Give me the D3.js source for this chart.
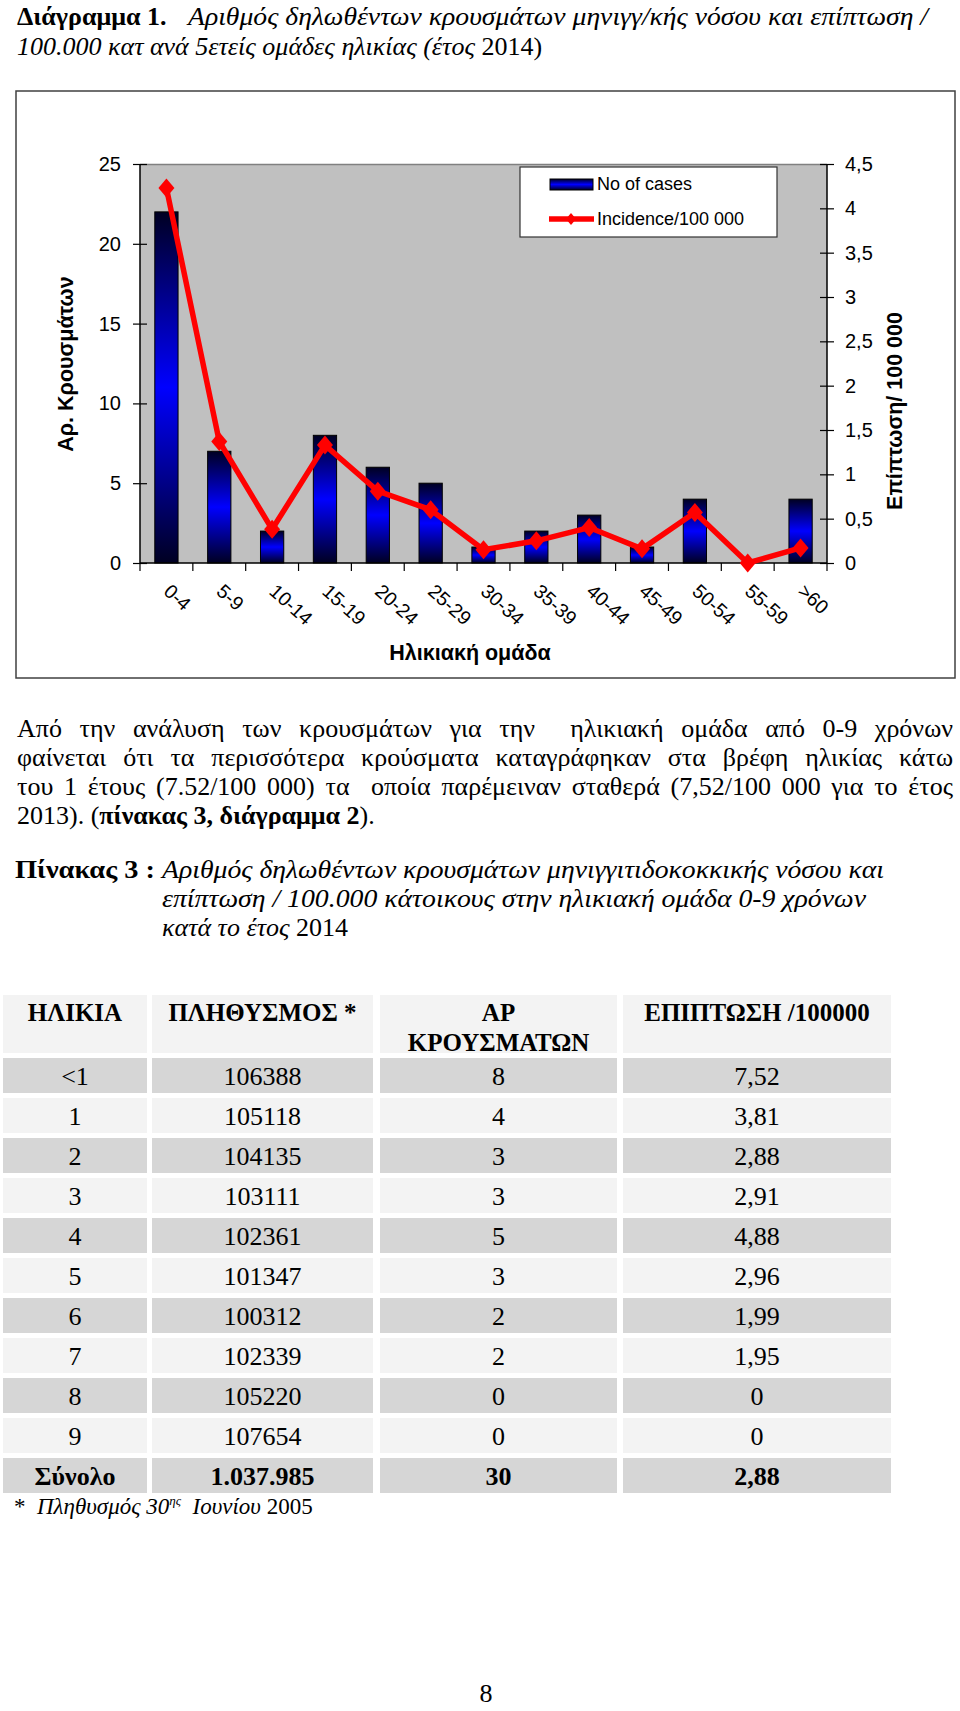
<!DOCTYPE html>
<html><head><meta charset="utf-8">
<script src="https://cdn.jsdelivr.net/npm/d3@7"></script>
<style>body{margin:0;background:#fff}svg{display:block}</style>
</head><body>
<svg id="page" width="960" height="1711"></svg>
<script>
// ---------- DATA ----------
const ageGroups = ["0-4","5-9","10-14","15-19","20-24","25-29","30-34","35-39","40-44","45-49","50-54","55-59",">60"];
const cases = [22,7,2,8,6,5,1,2,3,1,4,0,4];
const incidence = [4.23,1.37,0.38,1.33,0.81,0.6,0.15,0.25,0.40,0.16,0.57,0,0.17];
const leftTicks = [0,5,10,15,20,25];
const rightTicks = [0,0.5,1,1.5,2,2.5,3,3.5,4,4.5];
const rightTickLabels = ["0","0,5","1","1,5","2","2,5","3","3,5","4","4,5"];
const legendLabels = ["No of cases","Incidence/100 000"];

const tableHeader = [["ΗΛΙΚΙΑ"],["ΠΛΗΘΥΣΜΟΣ *"],["ΑΡ","ΚΡΟΥΣΜΑΤΩΝ"],["ΕΠΙΠΤΩΣΗ /100000"]];
const tableAges = ["<1","1","2","3","4","5","6","7","8","9","Σύνολο"];
const tablePop = ["106388","105118","104135","103111","102361","101347","100312","102339","105220","107654","1.037.985"];
const tableCases = ["8","4","3","3","5","3","2","2","0","0","30"];
const tableInc = ["7,52","3,81","2,88","2,91","4,88","2,96","1,99","1,95","0","0","2,88"];

const paraLines = [
  "Από την ανάλυση των κρουσμάτων για την  ηλικιακή ομάδα από 0-9 χρόνων",
  "φαίνεται ότι τα περισσότερα κρούσματα καταγράφηκαν στα βρέφη ηλικίας κάτω",
  "του 1 έτους (7.52/100 000) τα  οποία παρέμειναν σταθερά (7,52/100 000 για το έτος"
];

// ---------- STYLE / LAYOUT ----------
const SERIF = "'Liberation Serif','Times New Roman',serif";
const SANS = "'Liberation Sans',Arial,sans-serif";
const FS = 26;
const svg = d3.select("#page");

function styled(sel, s, size){
  sel.style("font-family", SERIF).style("font-size", (size||FS)+"px")
     .style("font-weight", s.includes("b") ? "bold" : "normal")
     .style("font-style", s.includes("i") ? "italic" : "normal");
  return sel;
}
function rich(x, y, segs, width, size){
  const t = svg.append("text").attr("x",x).attr("y",y).attr("fill","#000")
     .style("font-family",SERIF).style("font-size",(size||FS)+"px").attr("xml:space","preserve");
  segs.forEach(([txt,s])=>{ styled(t.append("tspan"), s, size).text(txt); });
  if (width) t.attr("textLength", width).attr("lengthAdjust","spacingAndGlyphs");
  return t;
}
function justify(y, line, x0, x1){
  const toks = line.split(" ");
  const g = svg.append("g");
  const nodes = toks.map(w => styled(g.append("text").attr("y",y), "n").text(w));
  const w = nodes.map(n => n.node().getComputedTextLength());
  const gap = (x1 - x0 - d3.sum(w)) / (toks.length - 1);
  let x = x0;
  nodes.forEach((n,i)=>{ n.attr("x", x); x += w[i] + gap; });
}

// ---------- TITLE ----------
rich(17, 25, [["Διάγραμμα 1.","b"]]);
rich(188, 25, [["Αριθμός δηλωθέντων κρουσμάτων μηνιγγ/κής νόσου και επίπτωση /","i"]], 740);
rich(17, 55, [["100.000 κατ ανά 5ετείς ομάδες ηλικίας (έτος ","i"],["2014)","n"]]);

// ---------- CHART ----------
svg.append("rect").attr("x",16).attr("y",91).attr("width",939).attr("height",587)
   .attr("fill","#fff").attr("stroke","#404040").attr("stroke-width",1.5);

const x = d3.scaleBand().domain(ageGroups).range([140,827]).padding(0);
const yL = d3.scaleLinear().domain([0,25]).range([563,164]);
const yR = d3.scaleLinear().domain([0,4.5]).range([563,164]);

svg.append("rect").attr("x",140).attr("y",164).attr("width",687).attr("height",399).attr("fill","#c0c0c0");
svg.append("line").attr("x1",140).attr("x2",827).attr("y1",164.5).attr("y2",164.5).attr("stroke","#808080").attr("stroke-width",1.5);

const defs = svg.append("defs");
const grad = defs.append("linearGradient").attr("id","barGrad").attr("x1",0).attr("y1",0).attr("x2",0).attr("y2",1);
[[0,"#000022"],[0.5,"#0000ff"],[1,"#000022"]].forEach(([o,c])=>grad.append("stop").attr("offset",o).attr("stop-color",c));

const bw = x.bandwidth()*0.44;
svg.append("g").selectAll("rect").data(ageGroups).join("rect")
  .attr("x", d => x(d) + x.bandwidth()/2 - bw/2)
  .attr("y", (d,i) => yL(cases[i]))
  .attr("width", bw)
  .attr("height", (d,i) => yL(0) - yL(cases[i]))
  .attr("fill","url(#barGrad)").attr("stroke","#000").attr("stroke-width",1)
  .attr("display",(d,i)=>cases[i]>0?null:"none");

// axes
const axL = svg.append("g").attr("transform","translate(140,0)")
  .call(d3.axisLeft(yL).tickValues(leftTicks).tickSize(7).tickPadding(12).tickFormat(d3.format("d")));
axL.select(".domain").attr("stroke","#000").attr("stroke-width",1.5).attr("d","M0,164V563");
axL.selectAll(".tick line").attr("x1",-7).attr("x2",7).attr("stroke","#000").attr("stroke-width",1.2);
axL.selectAll(".tick text").style("font-family",SANS).style("font-size","20px").attr("fill","#000");

const axR = svg.append("g").attr("transform","translate(827,0)")
  .call(d3.axisRight(yR).tickValues(rightTicks).tickSize(7).tickPadding(11).tickFormat((d,i)=>rightTickLabels[i]));
axR.select(".domain").attr("stroke","#000").attr("stroke-width",1.5).attr("d","M0,164V563");
axR.selectAll(".tick line").attr("x1",-7).attr("x2",7).attr("stroke","#000").attr("stroke-width",1.2);
axR.selectAll(".tick text").style("font-family",SANS).style("font-size","20px").attr("fill","#000");

const axB = svg.append("g").attr("transform","translate(0,563)");
axB.append("line").attr("x1",140).attr("x2",827).attr("stroke","#000").attr("stroke-width",1.5);
const bounds = ageGroups.map(d=>x(d)).concat([x.range()[1]]);
axB.selectAll("line.tk").data(bounds).join("line").attr("class","tk")
  .attr("x1",d=>d).attr("x2",d=>d).attr("y1",0).attr("y2",8).attr("stroke","#000").attr("stroke-width",1.2);
axB.selectAll("text").data(ageGroups).join("text")
  .attr("transform", d => `translate(${x(d)+x.bandwidth()/2-4},30) rotate(42)`)
  .style("font-family",SANS).style("font-size","19.5px").attr("fill","#000").text(d=>d);

// line series
const line = d3.line().x((d,i)=>x(ageGroups[i])+x.bandwidth()/2).y(d=>yR(d));
svg.append("path").datum(incidence).attr("d",line).attr("fill","none")
  .attr("stroke","#ff0000").attr("stroke-width",5.5).attr("stroke-linejoin","miter");
svg.append("g").selectAll("path").data(incidence).join("path")
  .attr("transform",(d,i)=>`translate(${x(ageGroups[i])+x.bandwidth()/2},${yR(d)})`)
  .attr("d","M0,-9.5L8,0L0,9.5L-8,0Z").attr("fill","#ff0000");

// axis titles
svg.append("text").attr("transform","translate(66,364) rotate(-90)").attr("text-anchor","middle")
  .attr("dominant-baseline","central").style("font-family",SANS).style("font-weight","bold").style("font-size","21.5px").text("Αρ. Κρουσμάτων");
svg.append("text").attr("transform","translate(895,411) rotate(-90)").attr("text-anchor","middle")
  .attr("dominant-baseline","central").style("font-family",SANS).style("font-weight","bold").style("font-size","21.5px").text("Επίπτωση/ 100 000");
svg.append("text").attr("x",470).attr("y",660).attr("text-anchor","middle")
  .style("font-family",SANS).style("font-weight","bold").style("font-size","21.5px").text("Ηλικιακή ομάδα");

// legend
const lg = svg.append("g");
lg.append("rect").attr("x",520).attr("y",167).attr("width",257).attr("height",70).attr("fill","#fff").attr("stroke","#333").attr("stroke-width",1.2);
lg.append("rect").attr("x",550).attr("y",179).attr("width",43).attr("height",11).attr("fill","url(#barGrad)").attr("stroke","#000");
lg.append("line").attr("x1",549).attr("x2",594).attr("y1",219).attr("y2",219).attr("stroke","#ff0000").attr("stroke-width",5.5);
lg.append("path").attr("transform","translate(571,219)").attr("d","M0,-6L5,0L0,6L-5,0Z").attr("fill","#ff0000");
lg.selectAll("text").data(legendLabels).join("text").attr("x",597).attr("y",(d,i)=>184+i*35)
  .attr("dominant-baseline","central").style("font-family",SANS).style("font-size","18px").text(d=>d);

// ---------- PARAGRAPH ----------
const paraY = [737,766,795,824];
paraLines.forEach((l,i)=>justify(paraY[i], l, 17, 953));
rich(17, paraY[3], [["2013). (","n"],["πίνακας 3, διάγραμμα 2","b"],[").","n"]]);

// caption
rich(15, 878, [["Πίνακας 3 :","b"]], 140);
rich(162, 878, [["Αριθμός δηλωθέντων κρουσμάτων μηνιγγιτιδοκοκκικής νόσου και","i"]], 722);
rich(162, 907, [["επίπτωση / 100.000 κάτοικους στην ηλικιακή ομάδα 0-9 χρόνων","i"]], 704);
rich(162, 936, [["κατά το έτος ","i"],["2014","n"]]);

// ---------- TABLE ----------
const cols = [[3,147],[152,373],[380,617],[623,891]];
const tbl = svg.append("g");
cols.forEach((c,j)=>{
  tbl.append("rect").attr("x",c[0]).attr("y",995).attr("width",c[1]-c[0]).attr("height",58).attr("fill","#f3f3f3");
  tableHeader[j].forEach((t,k)=>{
    styled(tbl.append("text"),"b",25).attr("x",(c[0]+c[1])/2).attr("y",1021+k*30).attr("text-anchor","middle").text(t);
  });
});
const rows = tableAges.map((a,i)=>[a,tablePop[i],tableCases[i],tableInc[i]]);
rows.forEach((r,i)=>{
  const top = 1058 + 40*i;
  const last = i === rows.length-1;
  cols.forEach((c,j)=>{
    tbl.append("rect").attr("x",c[0]).attr("y",top).attr("width",c[1]-c[0]).attr("height",35)
      .attr("fill", i%2===0 ? "#d6d6d6" : "#f3f3f3");
    styled(tbl.append("text"), last?"b":"n").attr("x",(c[0]+c[1])/2).attr("y",top+27)
      .attr("text-anchor","middle").text(r[j]);
  });
});

// footnote
const FN = 23;
const fn = svg.append("text").attr("x",14).attr("y",1514).attr("xml:space","preserve")
  .style("font-family",SERIF).style("font-size",FN+"px");
styled(fn.append("tspan"),"n",FN).text("*  ");
styled(fn.append("tspan"),"i",FN).text("Πληθυσμός 30");
styled(fn.append("tspan"),"i",13).attr("dy",-9).text("ης");
styled(fn.append("tspan"),"i",FN).attr("dy",9).text("  Ιουνίου ");
styled(fn.append("tspan"),"n",FN).text("2005");

// page number
svg.append("text").attr("x",486).attr("y",1702).attr("text-anchor","middle").style("font-family",SERIF).style("font-size",FS+"px").text("8");
</script>
</body></html>
